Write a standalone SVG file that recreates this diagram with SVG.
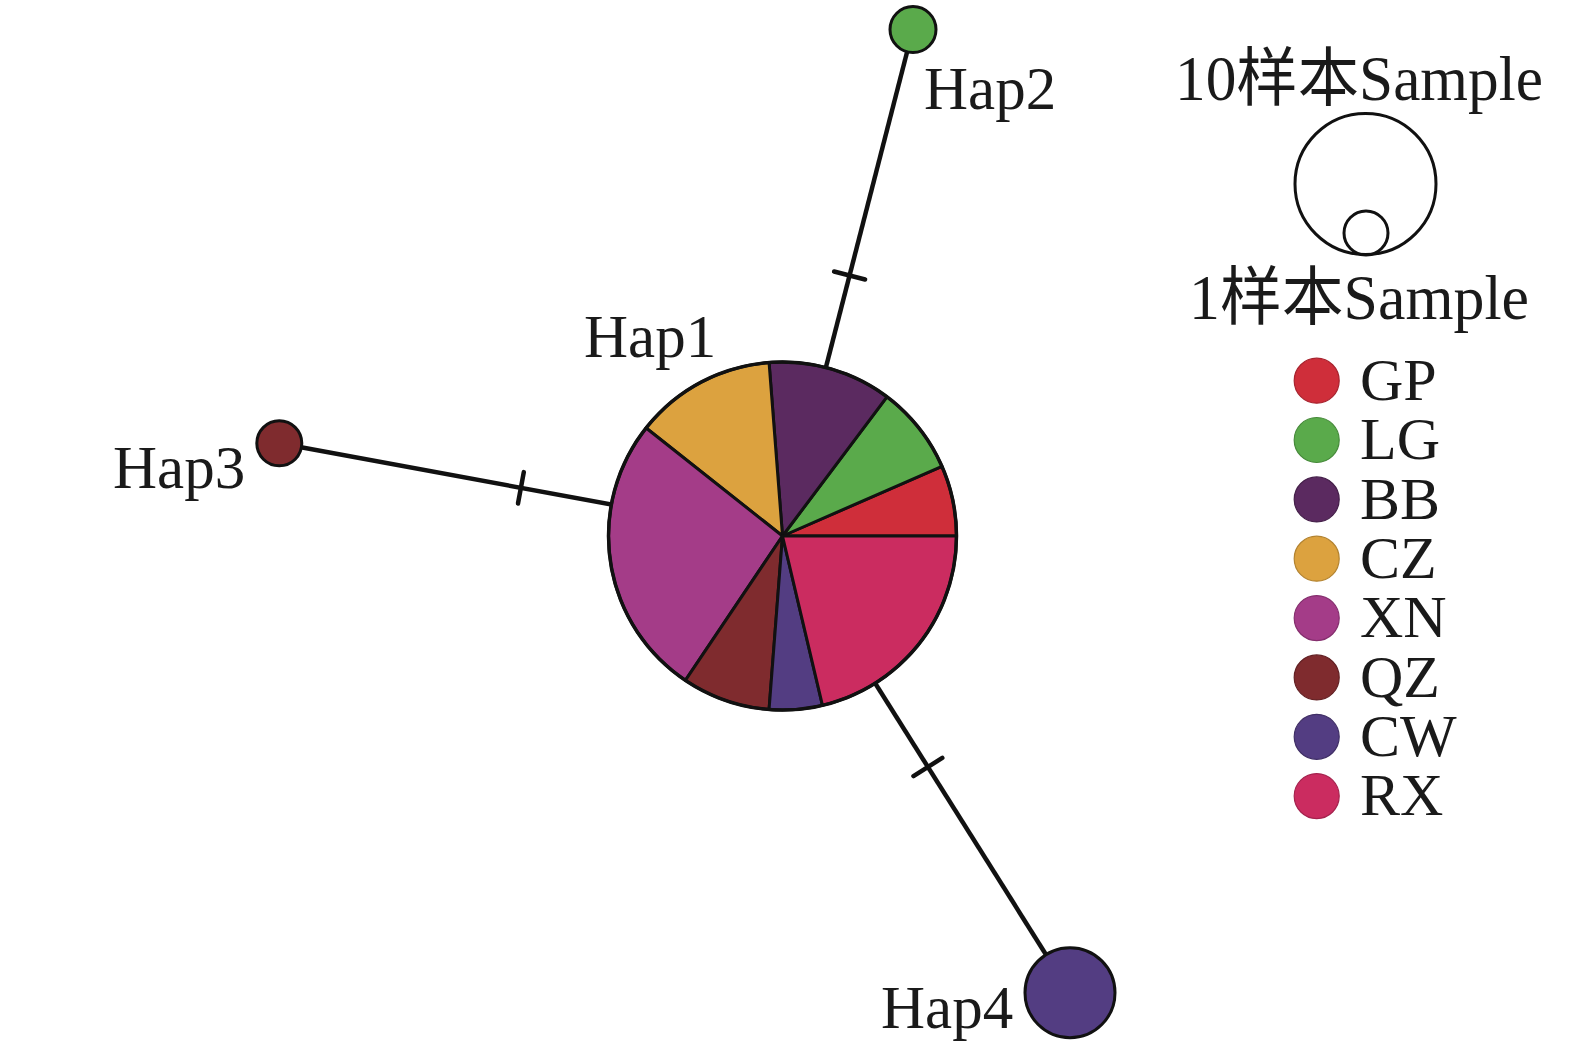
<svg xmlns="http://www.w3.org/2000/svg" width="1575" height="1046" viewBox="0 0 1575 1046">
<style>
.lbl{font-family:"Liberation Serif","Noto Sans CJK SC",serif;font-size:61px;fill:#1a1a1a}
.leg{font-family:"Liberation Serif","Noto Sans CJK SC",serif;font-size:64px;fill:#1a1a1a}
.edge{stroke:#111;stroke-width:4.5;fill:none}
.tick{stroke:#111;stroke-width:4.5;stroke-linecap:round}
.sl{stroke:#111;stroke-width:3;stroke-linejoin:round}
.nd{stroke:#111;stroke-width:3}
.GP{fill:#CF2E3A}.LG{fill:#5AAA4B}.BB{fill:#5B2A60}.CZ{fill:#DCA23F}
.XN{fill:#A43C88}.QZ{fill:#7F2B2E}.CW{fill:#533D82}.RX{fill:#CB2C60}
.lc{stroke-width:1.2}
</style>
<rect width="1575" height="1046" fill="#fff"/>
<g id="connectors">
<line class="edge" x1="782.5" y1="536" x2="913" y2="29"/>
<line class="edge" x1="782.5" y1="536" x2="279.3" y2="443.3"/>
<line class="edge" x1="782.5" y1="536" x2="1070" y2="992.7"/>
<line class="tick" x1="834.1" y1="271.5" x2="865.1" y2="279.5"/>
<line class="tick" x1="523.8" y1="472.1" x2="518.0" y2="503.5"/>
<line class="tick" x1="942.3" y1="757.9" x2="913.5" y2="776.1"/>
</g>
<g id="hap1">
<path class="sl GP" d="M782.5 536 L956.5 536 A174 174 0 0 0 941.94 466.32 Z"/>
<path class="sl LG" d="M782.5 536 L941.94 466.32 A174 174 0 0 0 886.95 396.83 Z"/>
<path class="sl BB" d="M782.5 536 L886.95 396.83 A174 174 0 0 0 769.07 362.52 Z"/>
<path class="sl CZ" d="M782.5 536 L769.07 362.52 A174 174 0 0 0 646.1 428.05 Z"/>
<path class="sl XN" d="M782.5 536 L646.1 428.05 A174 174 0 0 0 685.37 680.37 Z"/>
<path class="sl QZ" d="M782.5 536 L685.37 680.37 A174 174 0 0 0 769.07 709.48 Z"/>
<path class="sl CW" d="M782.5 536 L769.07 709.48 A174 174 0 0 0 822.47 705.35 Z"/>
<path class="sl RX" d="M782.5 536 L822.47 705.35 A174 174 0 0 0 956.5 536 Z"/>
<circle cx="782.5" cy="536" r="174" fill="none" stroke="#111" stroke-width="3.5"/>
<text class="lbl" x="584" y="357">Hap1</text>
</g>
<g id="hap2">
<circle class="nd LG" cx="913" cy="29.5" r="23"/>
<text class="lbl" x="924" y="109">Hap2</text>
</g>
<g id="hap3">
<circle class="nd QZ" cx="279.3" cy="443.3" r="22.5"/>
<text class="lbl" x="113" y="488">Hap3</text>
</g>
<g id="hap4">
<circle class="nd CW" cx="1070" cy="992.7" r="45"/>
<text class="lbl" x="881" y="1028">Hap4</text>
</g>
<g id="legend">
<text class="leg" x="1175" y="100" textLength="368" lengthAdjust="spacingAndGlyphs">10样本Sample</text>
<circle cx="1365.5" cy="184" r="70.5" fill="none" stroke="#111" stroke-width="3"/>
<circle cx="1366" cy="233" r="22" fill="none" stroke="#111" stroke-width="3"/>
<text class="leg" x="1189" y="319" textLength="340" lengthAdjust="spacingAndGlyphs">1样本Sample</text>
<g class="lc">
<circle class="GP" cx="1316.7" cy="380.7" r="22.5" stroke="#A8232E"/>
<circle class="LG" cx="1316.7" cy="440" r="22.5" stroke="#468A3A"/>
<circle class="BB" cx="1316.7" cy="499.4" r="22.5" stroke="#45204A"/>
<circle class="CZ" cx="1316.7" cy="558.7" r="22.5" stroke="#B38330"/>
<circle class="XN" cx="1316.7" cy="618.1" r="22.5" stroke="#852F6E"/>
<circle class="QZ" cx="1316.7" cy="677.4" r="22.5" stroke="#632124"/>
<circle class="CW" cx="1316.7" cy="736.8" r="22.5" stroke="#402F66"/>
<circle class="RX" cx="1316.7" cy="796.1" r="22.5" stroke="#A5234E"/>
</g>
<text class="lbl" style="font-size:60px"><tspan x="1360" y="400">GP</tspan><tspan x="1360" y="459.3">LG</tspan><tspan x="1360" y="518.7">BB</tspan><tspan x="1360" y="578">CZ</tspan><tspan x="1360" y="637.4">XN</tspan><tspan x="1360" y="696.7">QZ</tspan><tspan x="1360" y="756.1">CW</tspan><tspan x="1360" y="815.4">RX</tspan></text>
</g>
</svg>
